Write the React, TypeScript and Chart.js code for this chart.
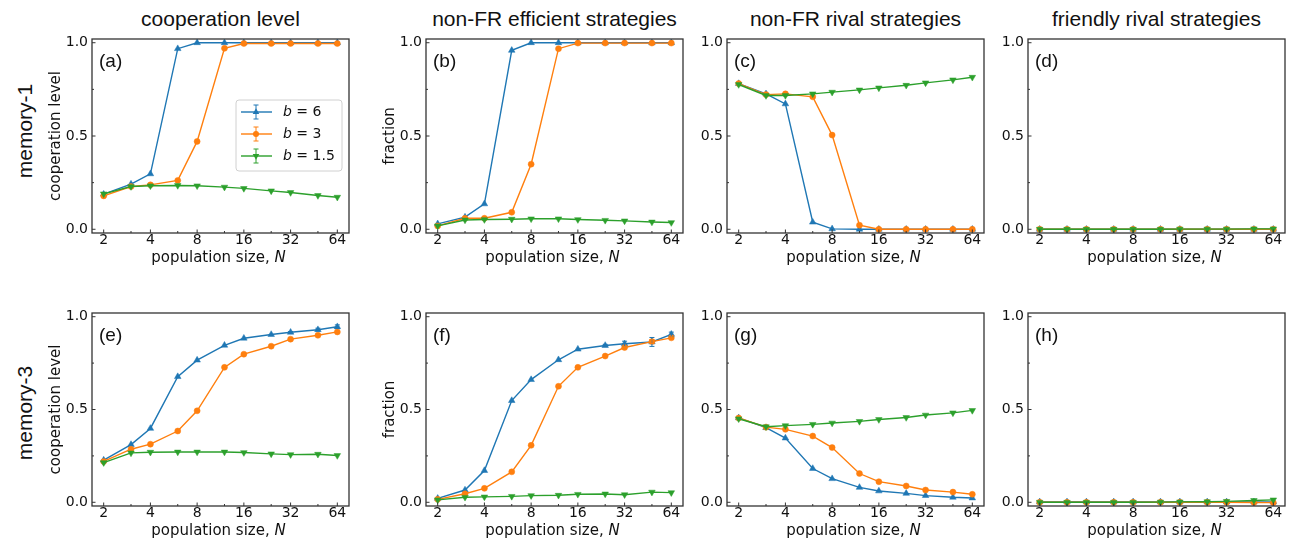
import React, { useEffect, useRef } from "react";
import { Chart, registerables } from "chart.js";

Chart.register(...registerables);

// ---------- data ----------
const N_VALUES = [2, 3, 4, 6, 8, 12, 16, 24, 32, 48, 64];
const X_TICKS = [2, 4, 8, 16, 32, 64];
const X_MINOR = [3, 6, 12, 24, 48];
const Y_TICKS = [0, 0.5, 1.0];
const Y_MINOR = [0.25, 0.75];
const B_VALUES = ["6", "3", "1.5"];
const COLUMN_TITLES = [
  "cooperation level",
  "non-FR efficient strategies",
  "non-FR rival strategies",
  "friendly rival strategies",
];
const ROW_LABELS = ["memory-1", "memory-3"];
const PANEL_LETTERS = ["(a)", "(b)", "(c)", "(d)", "(e)", "(f)", "(g)", "(h)"];
const Y_LABELS = ["cooperation level", "fraction", "", ""];
const X_TITLE = "population size, ";
const X_TITLE_VAR = "N";

// memory-1
const a_b6 = [0.188, 0.242, 0.297, 0.968, 1.0, 1.0, 1.0, 1.0, 1.0, 1.0, 1.0];
const a_b3 = [0.179, 0.229, 0.238, 0.262, 0.471, 0.97, 0.996, 0.996, 0.996, 0.996, 0.996];
const a_b15 = [0.19, 0.229, 0.233, 0.235, 0.233, 0.226, 0.219, 0.206, 0.197, 0.181, 0.172];

const b_b6 = [0.029, 0.065, 0.136, 0.959, 1.0, 1.0, 1.0, 1.0, 1.0, 1.0, 1.0];
const b_b3 = [0.018, 0.059, 0.059, 0.091, 0.349, 0.968, 0.998, 0.998, 0.998, 0.998, 0.998];
const b_b15 = [0.018, 0.05, 0.052, 0.054, 0.056, 0.056, 0.052, 0.048, 0.045, 0.039, 0.036];

const c_b6 = [0.781, 0.726, 0.672, 0.038, 0.002, 0.0, 0.0, 0.0, 0.0, 0.0, 0.0];
const c_b3 = [0.781, 0.722, 0.726, 0.71, 0.505, 0.022, 0.0, 0.0, 0.0, 0.0, 0.0];
const c_b15 = [0.776, 0.717, 0.717, 0.726, 0.735, 0.747, 0.758, 0.772, 0.785, 0.801, 0.815];

const d_b6 = [0.0, 0.0, 0.0, 0.0, 0.0, 0.0, 0.0, 0.0, 0.0, 0.0, 0.0];
const d_b3 = [0.0, 0.0, 0.0, 0.0, 0.0, 0.0, 0.0, 0.0, 0.0, 0.0, 0.0];
const d_b15 = [0.0, 0.0, 0.0, 0.0, 0.0, 0.0, 0.001, 0.001, 0.001, 0.002, 0.002];

// memory-3
const e_b6 = [0.227, 0.311, 0.398, 0.677, 0.766, 0.846, 0.884, 0.904, 0.916, 0.93, 0.946];
const e_b3 = [0.22, 0.286, 0.313, 0.384, 0.493, 0.727, 0.798, 0.841, 0.879, 0.9, 0.918];
const e_b15 = [0.214, 0.266, 0.27, 0.271, 0.271, 0.271, 0.268, 0.261, 0.257, 0.259, 0.252];

const f_b6 = [0.021, 0.066, 0.171, 0.548, 0.661, 0.768, 0.825, 0.845, 0.854, 0.864, 0.905];
const f_b3 = [0.016, 0.046, 0.075, 0.164, 0.307, 0.625, 0.727, 0.788, 0.834, 0.866, 0.886];
const f_b15 = [0.013, 0.027, 0.029, 0.032, 0.036, 0.038, 0.043, 0.045, 0.041, 0.055, 0.052];

const g_b6 = [0.455, 0.402, 0.346, 0.182, 0.127, 0.08, 0.061, 0.048, 0.036, 0.027, 0.023];
const g_b3 = [0.454, 0.405, 0.393, 0.357, 0.295, 0.155, 0.111, 0.088, 0.066, 0.055, 0.043];
const g_b15 = [0.45, 0.407, 0.413, 0.42, 0.427, 0.436, 0.446, 0.457, 0.47, 0.482, 0.495];

const h_b6 = [0.002, 0.002, 0.002, 0.002, 0.002, 0.002, 0.002, 0.002, 0.002, 0.002, 0.002];
const h_b3 = [0.0, 0.0, 0.0, 0.0, 0.0, 0.0, 0.0, 0.0, 0.0, -0.001, -0.002];
const h_b15 = [0.0, 0.0, 0.0, 0.0, 0.0, 0.001, 0.002, 0.003, 0.005, 0.01, 0.013];

// error bars (half-widths)
const ZERO_ERR = [0, 0, 0, 0, 0, 0, 0, 0, 0, 0, 0];
const err_e_b6 = [0, 0, 0, 0, 0, 0, 0, 0, 0.004, 0.008, 0.01];
const err_f_b6 = [0, 0, 0, 0, 0, 0, 0, 0.006, 0.014, 0.024, 0.012];
const err_f_b3 = [0, 0, 0, 0, 0, 0, 0, 0, 0.006, 0.01, 0.006];

const PANEL_SERIES = [
  [a_b6, a_b3, a_b15],
  [b_b6, b_b3, b_b15],
  [c_b6, c_b3, c_b15],
  [d_b6, d_b3, d_b15],
  [e_b6, e_b3, e_b15],
  [f_b6, f_b3, f_b15],
  [g_b6, g_b3, g_b15],
  [h_b6, h_b3, h_b15],
];
const PANEL_ERRORS = [
  [ZERO_ERR, ZERO_ERR, ZERO_ERR],
  [ZERO_ERR, ZERO_ERR, ZERO_ERR],
  [ZERO_ERR, ZERO_ERR, ZERO_ERR],
  [ZERO_ERR, ZERO_ERR, ZERO_ERR],
  [err_e_b6, ZERO_ERR, ZERO_ERR],
  [err_f_b6, err_f_b3, ZERO_ERR],
  [ZERO_ERR, ZERO_ERR, ZERO_ERR],
  [ZERO_ERR, ZERO_ERR, ZERO_ERR],
];

// ---------- style / layout ----------
const COLORS = ["#1f77b4", "#ff7f0e", "#2ca02c"];
const COL_LEFT = [92, 426, 727, 1028];
const ROW_TOP = [39, 313];
const BOX_W = 257;
const BOX_H = [194, 193];
const AX_W = 92;
const AX_H = 40;
const PAD_R = 6;
const TEXT = "#111";
const FRAME = "#333";
const TICK_FONT = "DejaVu Sans";
const TITLE_FONT = '"Liberation Sans", Arial, Helvetica, sans-serif';

function drawMarker(ctx: CanvasRenderingContext2D, k: number, x: number, y: number) {
  ctx.beginPath();
  if (k === 1) {
    ctx.arc(x, y, 3, 0, Math.PI * 2);
  } else {
    const r = 3.8;
    const dir = k === 0 ? -1 : 1;
    ctx.moveTo(x, y + dir * r);
    ctx.lineTo(x - r * 0.866, y - dir * r * 0.5);
    ctx.lineTo(x + r * 0.866, y - dir * r * 0.5);
    ctx.closePath();
  }
  ctx.fill();
}

function makeDecor(idx: number) {
  return {
    id: "decor" + idx,
    afterDatasetsDraw(chart: any) {
      const { ctx, scales } = chart;
      const xs = scales.x;
      const ys = scales.y;
      const errs = PANEL_ERRORS[idx];
      const vals = PANEL_SERIES[idx];
      ctx.save();
      ctx.lineWidth = 1;
      for (let k = 0; k < 3; k++) {
        ctx.strokeStyle = COLORS[k];
        ctx.beginPath();
        for (let i = 0; i < N_VALUES.length; i++) {
          const e = errs[k][i];
          if (!e) continue;
          const px = xs.getPixelForValue(N_VALUES[i]);
          const y1 = ys.getPixelForValue(vals[k][i] + e);
          const y2 = ys.getPixelForValue(vals[k][i] - e);
          ctx.moveTo(px, y1);
          ctx.lineTo(px, y2);
          ctx.moveTo(px - 2.5, y1);
          ctx.lineTo(px + 2.5, y1);
          ctx.moveTo(px - 2.5, y2);
          ctx.lineTo(px + 2.5, y2);
        }
        ctx.stroke();
      }
      ctx.restore();
    },
    afterDraw(chart: any) {
      const { ctx, chartArea, scales } = chart;
      const { left, right, top, bottom } = chartArea;
      const xs = scales.x;
      const ys = scales.y;
      ctx.save();
      // frame
      ctx.strokeStyle = FRAME;
      ctx.lineWidth = 1.3;
      ctx.strokeRect(left, top, right - left, bottom - top);
      // inward ticks
      ctx.lineWidth = 1;
      ctx.beginPath();
      for (const v of X_TICKS) {
        const p = xs.getPixelForValue(v);
        ctx.moveTo(p, bottom);
        ctx.lineTo(p, bottom - 3.5);
      }
      for (const v of X_MINOR) {
        const p = xs.getPixelForValue(v);
        ctx.moveTo(p, bottom);
        ctx.lineTo(p, bottom - 2);
      }
      for (const v of Y_TICKS) {
        const p = ys.getPixelForValue(v);
        ctx.moveTo(left, p);
        ctx.lineTo(left + 3.5, p);
      }
      for (const v of Y_MINOR) {
        const p = ys.getPixelForValue(v);
        ctx.moveTo(left, p);
        ctx.lineTo(left + 2, p);
      }
      ctx.stroke();

      // panel letter
      ctx.fillStyle = TEXT;
      ctx.font = "19px " + TITLE_FONT;
      ctx.textAlign = "left";
      ctx.textBaseline = "middle";
      ctx.fillText(PANEL_LETTERS[idx], left + 7, top + 23);

      // x title with italic N
      ctx.font = '15px "DejaVu Sans"';
      const w1 = ctx.measureText(X_TITLE).width;
      ctx.font = 'italic 15px "DejaVu Sans"';
      const w2 = ctx.measureText(X_TITLE_VAR).width;
      const cx = (left + right) / 2 - 2;
      const sx = cx - (w1 + w2) / 2;
      const ty = bottom + 25;
      ctx.font = '15px "DejaVu Sans"';
      ctx.fillText(X_TITLE, sx, ty);
      ctx.font = 'italic 15px "DejaVu Sans"';
      ctx.fillText(X_TITLE_VAR, sx + w1, ty);

      // legend (panel a only)
      if (idx === 0) {
        const lw = 106;
        const lh = 71;
        const lx = right - 7 - lw;
        const ly = top + 61;
        ctx.beginPath();
        const r = 3;
        ctx.moveTo(lx + r, ly);
        ctx.lineTo(lx + lw - r, ly);
        ctx.arcTo(lx + lw, ly, lx + lw, ly + r, r);
        ctx.lineTo(lx + lw, ly + lh - r);
        ctx.arcTo(lx + lw, ly + lh, lx + lw - r, ly + lh, r);
        ctx.lineTo(lx + r, ly + lh);
        ctx.arcTo(lx, ly + lh, lx, ly + lh - r, r);
        ctx.lineTo(lx, ly + r);
        ctx.arcTo(lx, ly, lx + r, ly, r);
        ctx.closePath();
        ctx.fillStyle = "rgba(255,255,255,0.85)";
        ctx.fill();
        ctx.strokeStyle = "#d0d0d0";
        ctx.lineWidth = 1;
        ctx.stroke();
        for (let k = 0; k < 3; k++) {
          const cy = ly + 12 + 22 * k;
          const mx = lx + 20;
          ctx.strokeStyle = COLORS[k];
          ctx.fillStyle = COLORS[k];
          ctx.lineWidth = 1.4;
          ctx.beginPath();
          ctx.moveTo(lx + 5, cy);
          ctx.lineTo(lx + 36, cy);
          ctx.stroke();
          ctx.lineWidth = 1;
          ctx.beginPath();
          ctx.moveTo(mx, cy - 7);
          ctx.lineTo(mx, cy + 7);
          ctx.moveTo(mx - 2.5, cy - 7);
          ctx.lineTo(mx + 2.5, cy - 7);
          ctx.moveTo(mx - 2.5, cy + 7);
          ctx.lineTo(mx + 2.5, cy + 7);
          ctx.stroke();
          drawMarker(ctx, k, mx, cy);
          ctx.fillStyle = TEXT;
          ctx.textBaseline = "middle";
          ctx.font = 'italic 14px "DejaVu Sans"';
          const bw = ctx.measureText("b").width;
          ctx.fillText("b", lx + 47, cy);
          ctx.font = '14px "DejaVu Sans"';
          ctx.fillText(" = " + B_VALUES[k], lx + 47 + bw, cy);
        }
      }
      ctx.restore();
    },
  };
}

function Panel({ idx }: { idx: number }) {
  const ref = useRef<HTMLCanvasElement>(null);
  const row = Math.floor(idx / 4);
  const col = idx % 4;
  const width = AX_W + BOX_W + PAD_R;
  const height = 39 + BOX_H[row] + AX_H;
  useEffect(() => {
    const canvas = ref.current;
    if (!canvas) return;
    const ylabel = Y_LABELS[col];
    const chart = new Chart(canvas, {
      type: "line",
      data: {
        datasets: PANEL_SERIES[idx].map((vals, k) => ({
          label: "b = " + B_VALUES[k],
          data: N_VALUES.map((n, i) => ({ x: n, y: vals[i] })),
          borderColor: COLORS[k],
          backgroundColor: COLORS[k],
          borderWidth: 1.4,
          pointStyle: k === 1 ? "circle" : "triangle",
          pointRotation: k === 2 ? 180 : 0,
          pointRadius: k === 1 ? 3 : 3.8,
          pointBorderWidth: 0.5,
          pointBorderColor: COLORS[k],
          pointBackgroundColor: COLORS[k],
          order: 3 - k,
          tension: 0,
          fill: false,
        })),
      },
      options: {
        responsive: false,
        animation: false,
        events: [],
        layout: { padding: { top: 39, right: PAD_R, left: 0, bottom: 0 } },
        plugins: { legend: { display: false }, tooltip: { enabled: false }, title: { display: false } },
        scales: {
          x: {
            type: "logarithmic",
            min: Math.pow(2, 0.75),
            max: Math.pow(2, 6.25),
            bounds: "data",
            afterBuildTicks: (s: any) => {
              s.ticks = X_TICKS.map((v) => ({ value: v }));
            },
            afterFit: (s: any) => {
              s.height = AX_H;
            },
            grid: { display: false, drawTicks: false },
            border: { display: false },
            ticks: {
              autoSkip: false,
              maxRotation: 0,
              minRotation: 0,
              padding: -1,
              color: TEXT,
              font: { family: TICK_FONT, size: 14 },
              callback: (v: any) => String(v),
            },
          },
          y: {
            type: "linear",
            min: -0.02,
            max: 1.02,
            bounds: "data",
            afterBuildTicks: (s: any) => {
              s.ticks = Y_TICKS.map((v) => ({ value: v }));
            },
            afterFit: (s: any) => {
              s.width = AX_W;
            },
            grid: { display: false, drawTicks: false },
            border: { display: false },
            ticks: {
              padding: 4,
              color: TEXT,
              font: { family: TICK_FONT, size: 14 },
              callback: (v: any) => Number(v).toFixed(1),
            },
            title: {
              display: ylabel !== "",
              text: ylabel,
              color: TEXT,
              font: { family: TICK_FONT, size: 15 },
              padding: { top: 47, bottom: 0 },
            },
          },
        },
      } as any,
      plugins: [makeDecor(idx)],
    });
    return () => chart.destroy();
  }, []);
  return (
    <canvas
      ref={ref}
      width={width}
      height={height}
      style={{
        position: "absolute",
        left: COL_LEFT[col] - AX_W,
        top: ROW_TOP[row] - 39,
        width,
        height,
      }}
    />
  );
}

export default function App() {
  return (
    <div
      style={{
        position: "fixed",
        left: 0,
        top: 0,
        width: 1292,
        height: 540,
        background: "#fff",
        overflow: "hidden",
      }}
    >
      {COLUMN_TITLES.map((t, c) => (
        <div
          key={t}
          style={{
            position: "absolute",
            left: COL_LEFT[c] + BOX_W / 2 - 200,
            width: 400,
            top: 7,
            lineHeight: "24px",
            height: 24,
            textAlign: "center",
            fontFamily: TITLE_FONT,
            fontSize: 21,
            color: TEXT,
            whiteSpace: "nowrap",
          }}
        >
          {t}
        </div>
      ))}
      {ROW_LABELS.map((t, r) => (
        <div
          key={t}
          style={{
            position: "absolute",
            left: 25 - 100,
            top: (r === 0 ? 131 : 413) - 13,
            width: 200,
            height: 26,
            lineHeight: "26px",
            textAlign: "center",
            fontFamily: TITLE_FONT,
            fontSize: 21,
            color: TEXT,
            transform: "rotate(-90deg)",
            whiteSpace: "nowrap",
          }}
        >
          {t}
        </div>
      ))}
      {PANEL_LETTERS.map((_, i) => (
        <Panel key={i} idx={i} />
      ))}
    </div>
  );
}
